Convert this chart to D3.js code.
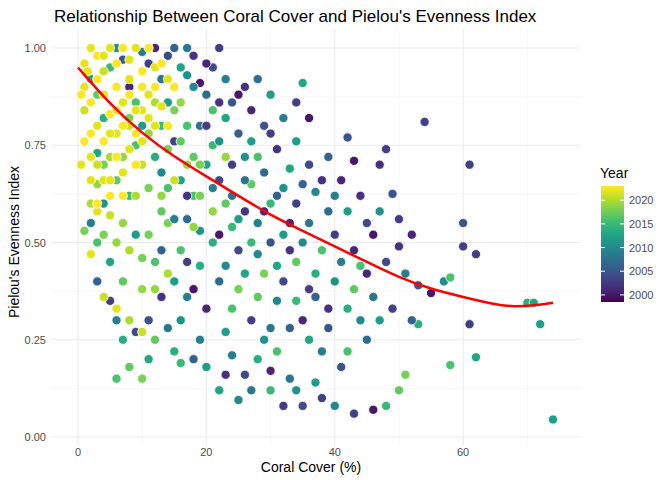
<!DOCTYPE html>
<html><head><meta charset="utf-8">
<script src="https://cdn.jsdelivr.net/npm/d3@7"></script>
<style>body{margin:0;background:#fff;font-family:"Liberation Sans",Arial,sans-serif}</style>
</head><body><svg id="c" width="672" height="480"></svg>
<script>
const xTicks=[0,20,40,60];
const yTicks=[0,0.25,0.5,0.75,1];
const yearTicks=[2000,2005,2010,2015,2020];
const trendX=[0,5,10,15,20,25,30,35,40,45,50,55,60,65,68,71,74];
const trendY=[0.95,0.855,0.78,0.72,0.67,0.62,0.57,0.53,0.49,0.45,0.41,0.38,0.36,0.34,0.335,0.338,0.345];
// [cover %, evenness, year]
const observations=[
[74,0.045,2012],[72,0.29,2012],[70,0.345,2014],[71,0.345,2013],[62,0.205,2013],[61,0.70,2003],[62,0.47,2003],[60,0.55,2005],[60,0.49,2003],[58,0.185,2016],[61,0.29,2003],[54,0.81,2003],[53,0.39,2005],[57,0.40,2010],[58,0.41,2016],[55,0.37,2000],[50,0.49,2002],[52,0.52,2001],[50,0.56,2003],[49,0.625,2005],[47,0.70,2002],[48,0.08,2015],[46,0.07,2000],[43,0.06,2003],[44,0.44,2016],[35,0.91,2013],[34,0.86,2003],[36,0.82,2000],[42,0.77,2005],[48,0.74,2003],[43,0.71,2000],[51,0.16,2018],[50,0.12,2017],[53,0.29,2014],[45,0.25,2007],[40,0.08,2010],[35,0.08,2004],[32,0.08,2003],[25,0.095,2010],[22,0.12,2013],[10,0.15,2018],[6,0.15,2016],[8,0.18,2017],[3,0.73,2013],[13,0.36,2002],
[45,0.55,2004],[46,0.36,2008],[47,0.30,2012],[49,0.33,2003],[51,0.42,2009],[52,0.30,2006],[44,0.62,2002],[41,0.66,2001],[39,0.58,2007],[40,0.40,2011],[42,0.33,2014],[38,0.22,2009],[41,0.18,2005],[37,0.14,2012],[33,0.15,2008],[30,0.17,2001],[28,0.20,2014],[26,0.16,2004],[24,0.21,2009],[38,0.48,2016],[36,0.38,2003],[37,0.63,2010],[39,0.72,2006],[33,0.69,2013],[31,0.74,2002],[29,0.80,2005],[27,0.84,2001],[25,0.88,2000],[23,0.92,2009],[21,0.95,2004],[18,0.98,2002],[15,1.0,2006],[12,1.0,2001],[17,0.93,2011],
[34,0.45,2017],[32,0.52,2012],[30,0.60,2015],[31,0.35,2010],[33,0.28,2006],[35,0.30,2001],[29,0.42,2018],[28,0.55,2009],[27,0.65,2017],[26,0.72,2011],[25,0.48,2004],[24,0.33,2016],[23,0.27,2012],[22,0.40,2007],[21,0.58,2019],[20,0.70,2013],[19,0.80,2008],[18,0.62,2016],[17,0.45,2003],[16,0.30,2011],[15,0.22,2014],[14,0.55,2018],[13,0.68,2010],[12,0.45,2016],[11,0.30,2005],[10,0.38,2019],[9,0.52,2012],[8,0.62,2015],[7,0.40,2017],[6,0.30,2009],[5,0.45,2013],[4,0.60,2011],[3,0.50,2016],[12,0.25,2017],[9,0.27,2004],[16,0.19,2015],[19,0.25,2009],[20,0.33,2001],
[30,0.50,2005],[28,0.47,2010],[26,0.58,2002],[24,0.62,2008],[22,0.66,2004],[21,0.75,2015],[19,0.53,2011],[18,0.38,2000],[17,0.56,2007],[16,0.66,2013],[15,0.76,2003],[14,0.86,2012],[13,0.92,2008],[11,0.96,2003],[10,0.99,2009],[16,0.48,2016],[14,0.42,2020],[13,0.58,2017],[12,0.72,2014],[11,0.64,2018],[10,0.80,2012],[9,0.86,2016],[8,0.90,2001],[7,0.97,2005],[6,1.0,2010],[5,0.95,2015],[4,0.82,2014],[3,0.88,2017],[2,0.92,2012],
[36,0.55,2008],[34,0.60,2003],[32,0.64,2011],[29,0.68,2007],[27,0.76,2012],[25,0.78,2006],[23,0.82,2013],[22,0.86,2002],[20,0.88,2007],[19,0.91,2000],[24,0.54,2015],[26,0.42,2013],[28,0.36,2017],[30,0.28,2008],[32,0.40,2004],[34,0.35,2015],[36,0.25,2013],[39,0.33,2002],[40,0.52,2003],[43,0.48,2001],[46,0.52,2000],[42,0.58,2012],
[21,0.50,2014],[23,0.44,2010],[25,0.38,2018],[27,0.30,2003],[29,0.25,2011],[31,0.22,2016],[33,0.55,2001],[35,0.65,2006],[37,0.42,2014],[39,0.28,2005],[41,0.45,2009],[43,0.38,2017],[45,0.42,2001],[47,0.58,2011],[48,0.45,2004],[44,0.30,2010],[42,0.22,2016],[38,0.10,2003],[34,0.12,2011],[30,0.12,2015],[27,0.12,2008],[23,0.16,2002],[20,0.18,2012],[18,0.20,2006],[14,0.28,2008],[11,0.20,2013],[7,0.25,2014],[5,0.35,2003],[3,0.40,2006],[2,0.55,2009],
[22,0.52,2000],[24,0.70,2003],[26,0.66,2008],[28,0.72,2016],[30,0.78,2003],[32,0.82,2009],[34,0.76,2012],[36,0.70,2004],[38,0.66,2002],[40,0.62,2009],[31,0.44,2013],[33,0.48,2002],[35,0.50,2010],[37,0.36,2006],[27,0.50,2015],[29,0.58,2001],[31,0.62,2006],[25,0.56,2012],[23,0.60,2017],[21,0.64,2009],[20,0.80,2003],[22,0.76,2011],[24,0.86,2005],[26,0.90,2002],[28,0.92,2007],[30,0.88,2012],[19,0.44,2014],[17,0.36,2009],[15,0.40,2012],[13,0.48,2006],[15,0.56,2009],[17,0.62,2002],[19,0.70,2018],[21,0.84,2016],[23,0.72,2019],[18,0.90,2010],[16,0.95,2013],[14,0.98,2004],[20,0.96,2001],[22,1.0,2003],[17,1.0,2008],
[18,0.72,2017],[17,0.80,2016],[16,0.86,2019],[15,0.66,2021],[14,0.74,2018],[13,0.80,2015],[12,0.86,2020],[11,0.78,2019],[10,0.70,2021],[9,0.75,2016],[8,0.82,2018],[7,0.72,2019],[6,0.66,2017],[5,0.72,2020],[4,0.70,2018],[3,0.65,2019],[2,0.60,2020],[7,0.55,2019],[5,0.57,2021],[9,0.62,2020],[11,0.52,2018],[13,0.62,2019],[15,0.84,2018],[17,0.70,2019],[19,0.62,2018],[12,0.38,2019],[10,0.46,2018],[8,0.48,2020],[6,0.50,2019],[4,0.52,2018],[14,0.64,2016],[16,0.76,2017],[18,0.54,2019],
[1,0.53,2018],[2,0.47,2022],[4,0.36,2021],[6,0.33,2022],[8,0.30,2020],[10,0.27,2021],[3,0.58,2022],[5,0.62,2023],[7,0.68,2022],[9,0.70,2023],[2,0.72,2022],[4,0.76,2023],[6,0.78,2022],[8,0.80,2021],[10,0.84,2022],[12,0.90,2023],[14,0.92,2022],[3,0.80,2022],[1,0.84,2021],[2,0.86,2023],[4,0.88,2022],[6,0.90,2023],[8,0.92,2022],[10,0.94,2023],[12,0.95,2022],[1,0.96,2022],[3,0.98,2023],[5,1.0,2022],[7,1.0,2023],[9,1.0,2022],[11,1.0,2023],[2,1.0,2022],[4,0.94,2021],[6,0.96,2023],[8,0.97,2022],[10,0.90,2023],[13,0.85,2022],[15,0.90,2023],[5,0.83,2023],[7,0.86,2022],[9,0.78,2023],[11,0.82,2022],[3,0.92,2023],[1,0.90,2022],[6,0.72,2023],[4,0.66,2022],[8,0.74,2022],[2,0.78,2023],
[0.5,0.70,2022],[1,0.76,2023],[2,0.66,2022],[3,0.70,2021],[5,0.78,2022],[7,0.80,2023],[9,0.84,2022],[11,0.88,2022],[13,0.96,2023],[12,0.80,2022],[14,0.80,2023],[10,0.76,2022],[6,0.84,2022],[4,0.98,2022],[8,0.88,2023],[3,0.60,2023],[5,0.66,2022],[7,0.62,2023],[0.5,0.88,2023],[1.5,0.94,2022]
];
const svg=d3.select("#c");
const x=d3.scaleLinear().domain([0,74]).range([78,553]);
const y=d3.scaleLinear().domain([0,1]).range([437,48]);
const color=d3.scaleSequential(d3.interpolateViridis).domain([1998.5,2023]);
const g=svg.append("g");
[10,30,50,70].forEach(v=>g.append("line").attr("x1",x(v)).attr("x2",x(v)).attr("y1",30).attr("y2",445).attr("stroke","#f2f2f2").attr("stroke-width",0.6));
[0.125,0.375,0.625,0.875].forEach(v=>g.append("line").attr("y1",y(v)).attr("y2",y(v)).attr("x1",52).attr("x2",580).attr("stroke","#f2f2f2").attr("stroke-width",0.6));
xTicks.forEach(v=>g.append("line").attr("x1",x(v)).attr("x2",x(v)).attr("y1",30).attr("y2",445).attr("stroke","#ebebeb").attr("stroke-width",1.1));
yTicks.forEach(v=>g.append("line").attr("y1",y(v)).attr("y2",y(v)).attr("x1",52).attr("x2",580).attr("stroke","#ebebeb").attr("stroke-width",1.1));
xTicks.forEach(v=>svg.append("text").attr("x",x(v)).attr("y",456).attr("text-anchor","middle").attr("font-size",11).attr("fill","#4d4d4d").text(v));
yTicks.forEach(v=>svg.append("text").attr("x",46).attr("y",y(v)+4).attr("text-anchor","end").attr("font-size",11).attr("fill","#4d4d4d").text(v.toFixed(2)));
svg.selectAll("circle.p").data(observations).join("circle").attr("class","p")
 .attr("cx",d=>x(d[0])).attr("cy",d=>y(d[1])).attr("r",4.6)
 .attr("fill",d=>color(d[2])).attr("stroke","#fff").attr("stroke-width",0.8);
svg.append("path").datum(trendX.map((v,i)=>[v,trendY[i]]))
 .attr("d",d3.line().x(d=>x(d[0])).y(d=>y(d[1])).curve(d3.curveBasis))
 .attr("fill","none").attr("stroke","#ff0000").attr("stroke-width",2.5);
svg.append("text").attr("x",54).attr("y",22).attr("font-size",17).attr("fill","#000").text("Relationship Between Coral Cover and Pielou's Evenness Index");
svg.append("text").attr("x",311).attr("y",472).attr("text-anchor","middle").attr("font-size",14).attr("fill","#000").text("Coral Cover (%)");
svg.append("text").attr("transform","translate(19,242) rotate(-90)").attr("text-anchor","middle").attr("font-size",14).text("Pielou's Evenness Index");
svg.append("text").attr("x",600).attr("y",178).attr("font-size",14).text("Year");
const defs=svg.append("defs");
const lg=defs.append("linearGradient").attr("id","gr").attr("x1",0).attr("x2",0).attr("y1",1).attr("y2",0);
d3.range(0,1.01,0.1).forEach(t=>lg.append("stop").attr("offset",t).attr("stop-color",d3.interpolateViridis(t)));
const ly=d3.scaleLinear().domain([1998.5,2023]).range([302,186]);
svg.append("rect").attr("x",601).attr("y",186).attr("width",23).attr("height",116).attr("fill","url(#gr)");
yearTicks.forEach(v=>{
 svg.append("line").attr("x1",601).attr("x2",605).attr("y1",ly(v)).attr("y2",ly(v)).attr("stroke","#fff");
 svg.append("line").attr("x1",620).attr("x2",624).attr("y1",ly(v)).attr("y2",ly(v)).attr("stroke","#fff");
 svg.append("text").attr("x",629).attr("y",ly(v)+4).attr("font-size",11).attr("fill","#4d4d4d").text(v);
});
</script></body></html>
